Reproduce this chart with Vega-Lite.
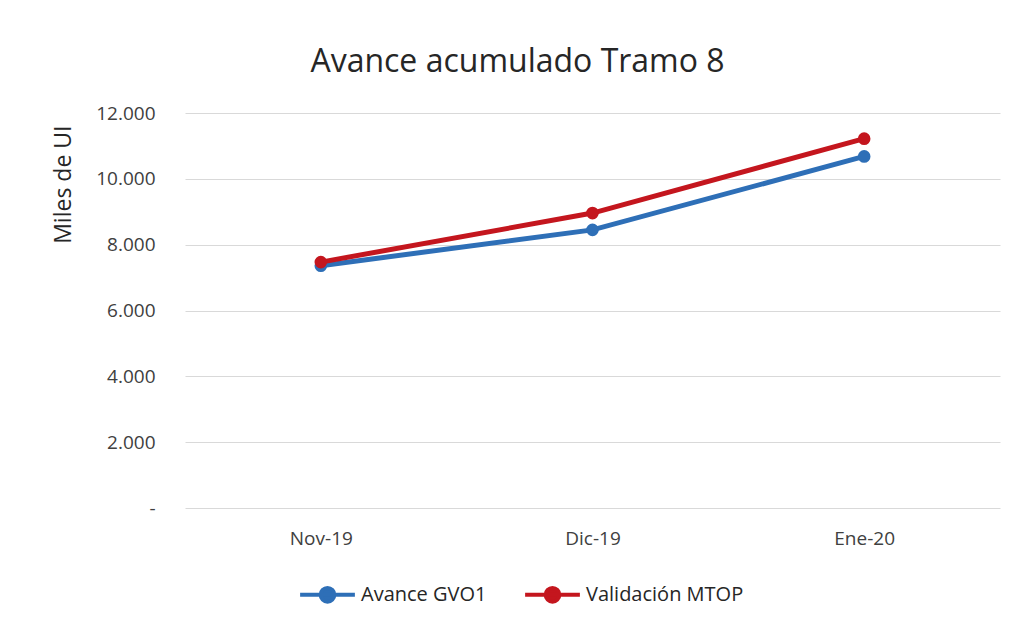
{
  "$schema": "https://vega.github.io/schema/vega-lite/v6.json",
  "autosize": "none",
  "width": 815,
  "height": 395,
  "padding": {"left": 185, "top": 113, "right": 15, "bottom": 118},
  "background": "white",
  "config": {
    "font": "Open Sans",
    "view": {"stroke": null},
    "axis": {"labelColor": "#404040", "titleColor": "#262626", "labelFontWeight": "normal", "titleFontWeight": "normal"}
  },
  "title": {
    "text": "Avance acumulado Tramo 8",
    "fontSize": 32,
    "font": "Open Sans",
    "fontWeight": "normal",
    "color": "#262626",
    "anchor": "middle",
    "dx": -75,
    "offset": 25
  },
  "data": {
    "values": [
      {"mes": "Nov-19", "serie": "Avance GVO1", "valor": 7360},
      {"mes": "Dic-19", "serie": "Avance GVO1", "valor": 8450},
      {"mes": "Ene-20", "serie": "Avance GVO1", "valor": 10680},
      {"mes": "Nov-19", "serie": "Validación MTOP", "valor": 7470},
      {"mes": "Dic-19", "serie": "Validación MTOP", "valor": 8960},
      {"mes": "Ene-20", "serie": "Validación MTOP", "valor": 11220}
    ]
  },
  "encoding": {
    "x": {
      "field": "mes",
      "type": "nominal",
      "sort": ["Nov-19", "Dic-19", "Ene-20"],
      "scale": {"type": "point", "padding": 0.5},
      "axis": {"title": null, "labelAngle": 0, "labelFontSize": 19, "ticks": false, "domain": false, "labelPadding": 21, "grid": false}
    },
    "y": {
      "field": "valor",
      "type": "quantitative",
      "scale": {"domain": [0, 12000], "nice": false},
      "axis": {
        "title": "Miles de UI",
        "titleFontSize": 23,
        "titleAnchor": "end",
        "titleY": 12,
        "titlePadding": 20,
        "values": [0, 2000, 4000, 6000, 8000, 10000, 12000],
        "labelExpr": "datum.value == 0 ? '-' : replace(format(datum.value, ','), ',', '.')",
        "labelFontSize": 19,
        "labelPadding": 30,
        "ticks": false,
        "domain": false,
        "grid": true,
        "gridColor": "#d9d9d9",
        "gridWidth": 1
      }
    },
    "color": {
      "field": "serie",
      "type": "nominal",
      "scale": {"domain": ["Avance GVO1", "Validación MTOP"], "range": ["#2E6FB7", "#C4161E"]},
      "legend": {
        "title": null,
        "orient": "none",
        "legendX": 113,
        "legendY": 452,
        "direction": "horizontal",
        "labelFontSize": 20,
        "labelColor": "#262626",
        "symbolType": "M-1,0H1M0.25,0A0.25,0.25 0 1,1 -0.25,0A0.25,0.25 0 1,1 0.25,0",
        "symbolSize": 3000,
        "symbolStrokeWidth": 4,
        "labelOffset": 4,
        "columnPadding": 30,
        "encode": {"symbols": {"update": {"fill": {"scale": "color", "field": "value"}}}}
      }
    }
  },
  "layer": [
    {"mark": {"type": "line", "strokeWidth": 5}},
    {"mark": {"type": "point", "filled": true, "size": 160, "opacity": 1}}
  ]
}
